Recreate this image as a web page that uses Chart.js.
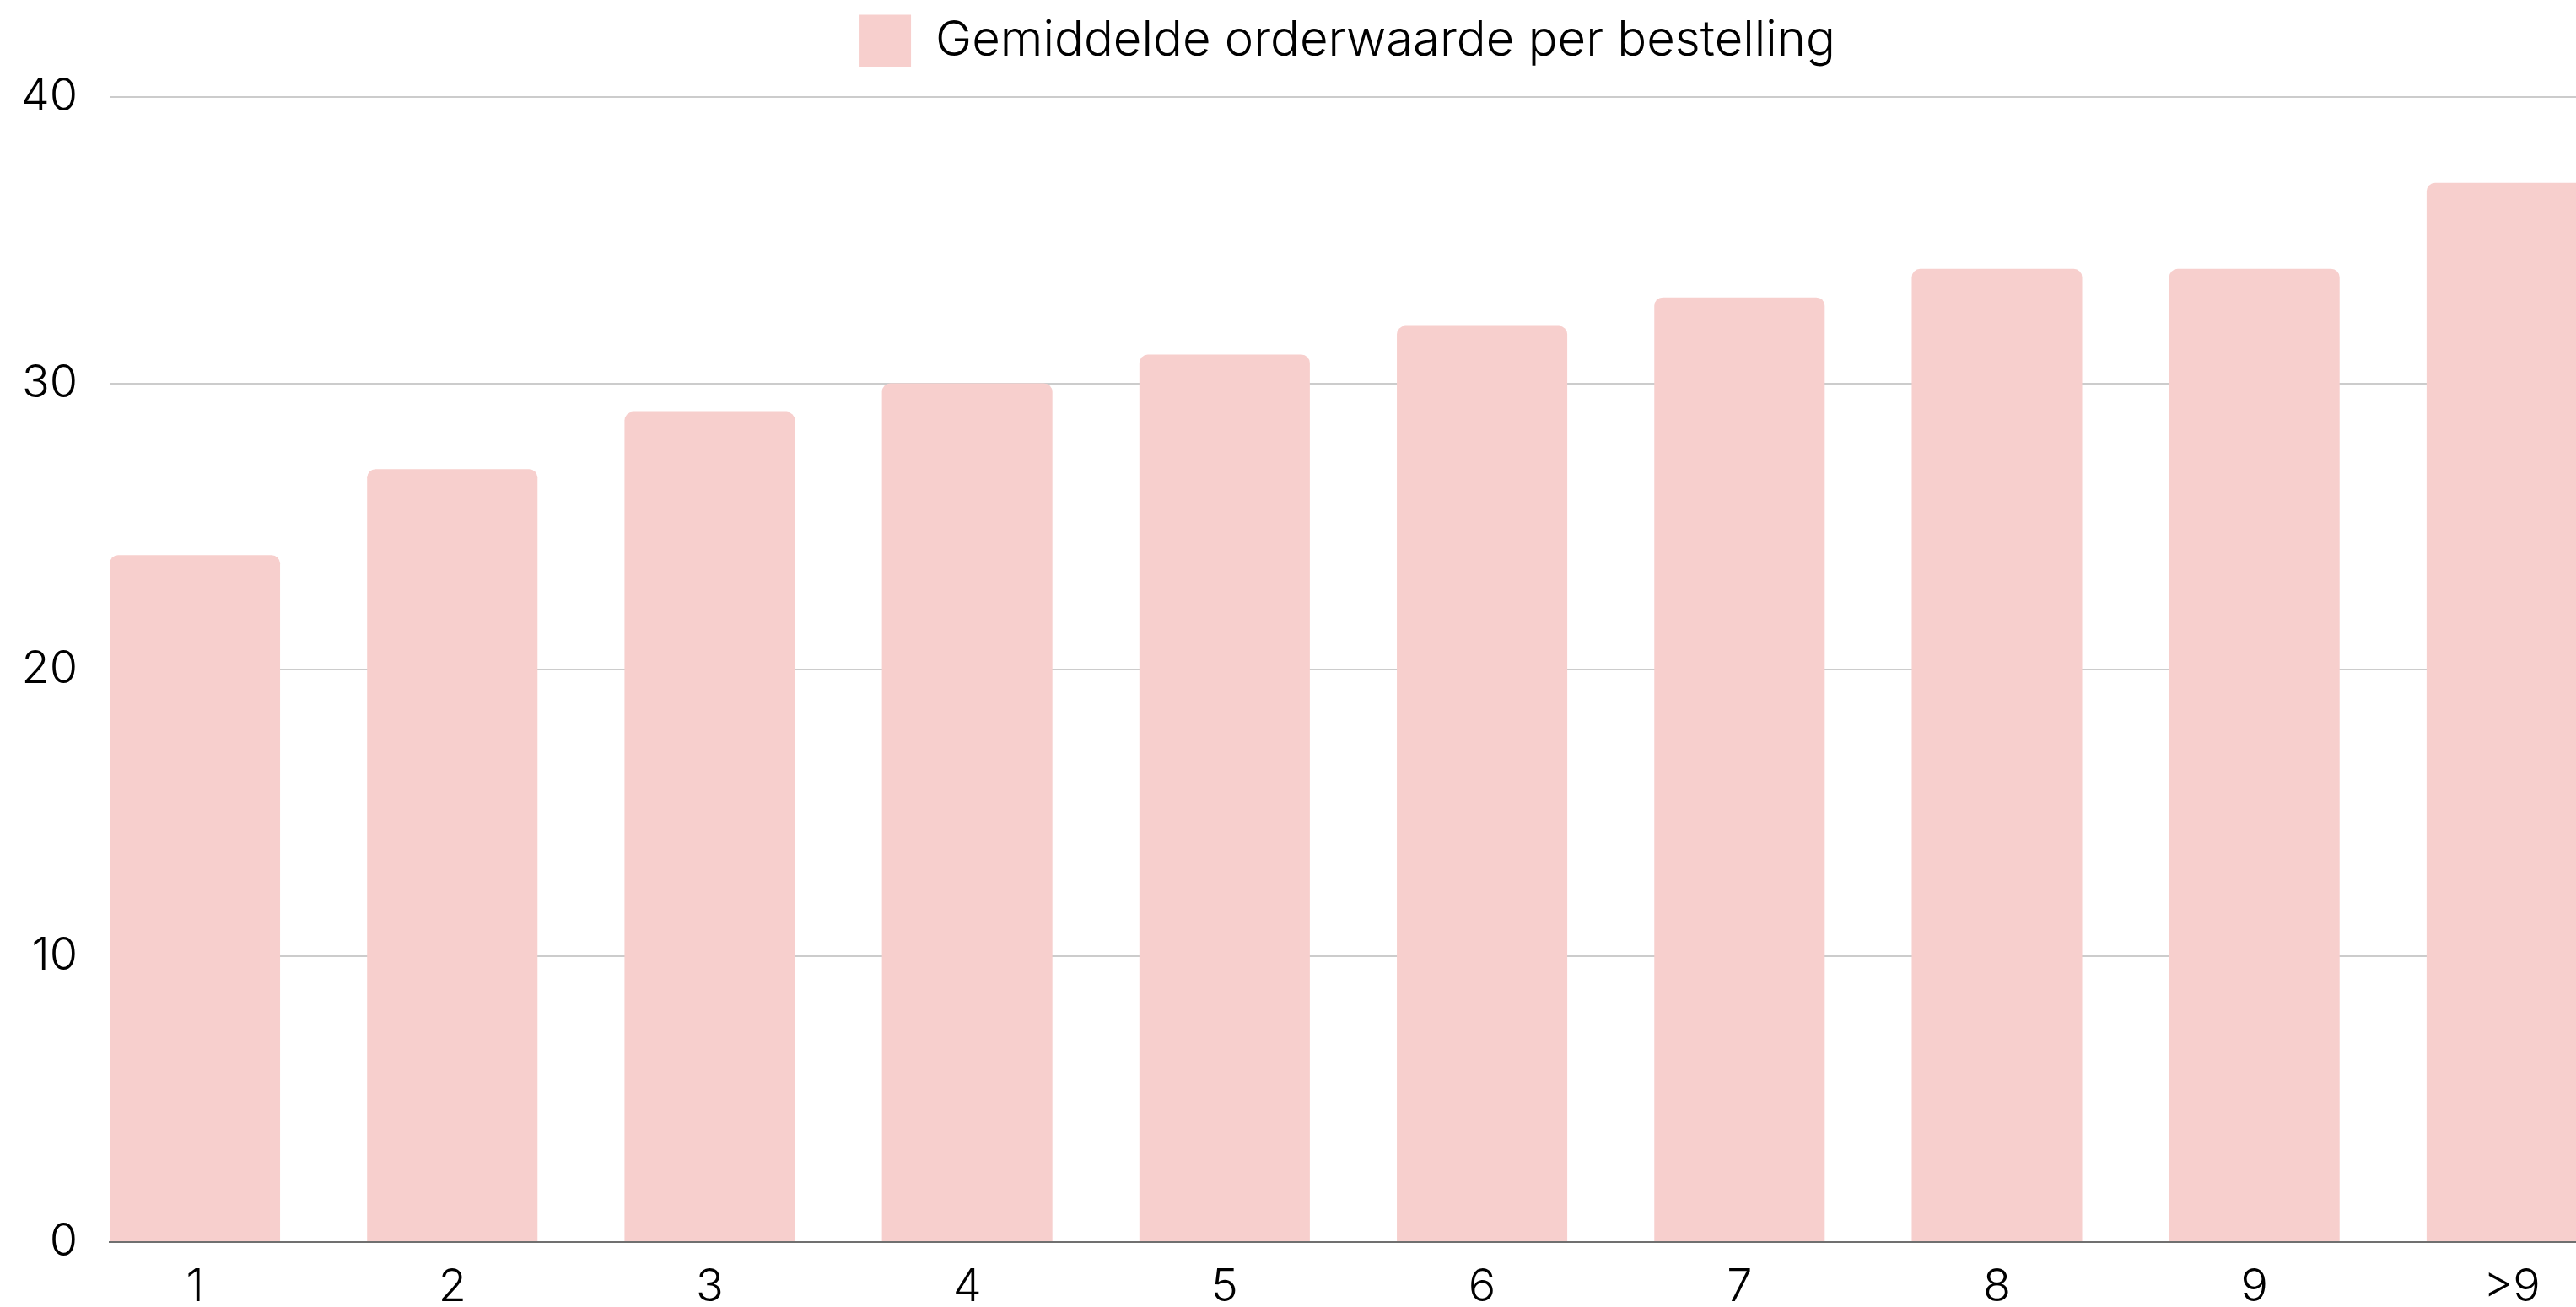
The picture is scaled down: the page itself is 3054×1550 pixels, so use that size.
<!DOCTYPE html>
<html>
<head>
<meta charset="utf-8">
<script src="https://cdn.jsdelivr.net/npm/chart.js@4"></script>
<style>
  html, body { margin: 0; padding: 0; background: #fff; overflow: hidden; }
  #wrap { position: relative; width: 3054px; height: 1550px; overflow: hidden; }
  #mychart { position: absolute; left: 0; top: 0; }
</style>
</head>
<body>
<div id="wrap">
  <canvas id="mychart" width="3194" height="1602"></canvas>
</div>
<script>
// data
const categories = ['1', '2', '3', '4', '5', '6', '7', '8', '9', '>9'];
const orderValues = [24, 27, 29, 30, 31, 32, 33, 34, 34, 37];
const seriesLabel = 'Gemiddelde orderwaarde per bestelling';
const yTicks = [0, 10, 20, 30, 40];

const barColor = '#f7cfcd';
const fontFamily = 'Inter, "Noto Sans", sans-serif';

const points = categories.map((c, i) => ({ x: i + 1, y: orderValues[i] }));

// extra room between the legend and the plot
const legendGap = {
    id: 'legendGap',
    beforeLayout(chart) {
        const legend = chart.legend;
        if (!legend || legend._gapPatched) return;
        const fit = legend.fit;
        legend.fit = function () {
            fit.call(this);
            this.height += 25.5;
        };
        legend._gapPatched = true;
    }
};

const ctx = document.getElementById('mychart');
const chart = new Chart(ctx, {
    type: 'bar',
    data: {
        datasets: [{
            label: seriesLabel,
            data: points,
            backgroundColor: barColor,
            borderWidth: 0,
            borderRadius: 10,
            borderSkipped: 'start',
            categoryPercentage: 1,
            barPercentage: 0.662
        }]
    },
    plugins: [legendGap],
    options: {
        responsive: false,
        animation: false,
        layout: {
            padding: 0
        },
        plugins: {
            tooltip: { enabled: false },
            legend: {
                position: 'top',
                labels: {
                    boxWidth: 62,
                    boxHeight: 62,
                    padding: 17.5,
                    color: '#000',
                    font: { family: fontFamily, size: 58, weight: 300 }
                }
            }
        },
        scales: {
            x: {
                type: 'linear',
                offset: false,
                min: 0.669,
                max: 10.708,
                grid: { display: false, offset: false },
                border: { display: true, color: '#707070', width: 2 },
                ticks: {
                    stepSize: 1,
                    includeBounds: false,
                    autoSkip: false,
                    maxRotation: 0,
                    padding: 13,
                    color: '#000',
                    font: { family: fontFamily, size: 54, weight: 300 },
                    callback: v => categories[v - 1]
                },
                afterFit: scale => { scale.height = 129; }
            },
            y: {
                min: 0,
                max: 40,
                grid: { color: '#cccccc', lineWidth: 2, drawTicks: false },
                border: { display: false },
                afterBuildTicks: scale => { scale.ticks = yTicks.map(v => ({ value: v })); },
                ticks: {
                    padding: 38,
                    color: '#000',
                    font: { family: fontFamily, size: 54, weight: 300 }
                },
                afterFit: scale => { scale.width = 130; }
            }
        }
    }
});
</script>
</body>
</html>
